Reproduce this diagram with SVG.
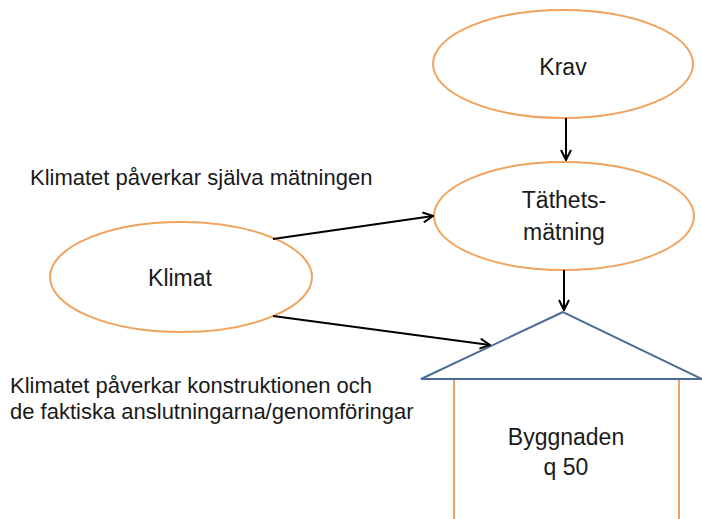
<svg xmlns="http://www.w3.org/2000/svg" width="702" height="519" viewBox="0 0 702 519">
<style>
.node{fill:#fff;stroke:#F0A35E;stroke-width:2}
.lbl{font-family:"Liberation Sans",Arial,sans-serif;font-size:23px;fill:#1a1a1a;text-anchor:middle}
.note{font-family:"Liberation Sans",Arial,sans-serif;font-size:22px;fill:#1a1a1a}
.conn{stroke:#000;stroke-width:2;fill:none;marker-end:url(#ah)}
</style>
<defs>
<marker id="ah" viewBox="0 0 12 12" refX="11" refY="6" markerWidth="12" markerHeight="12" markerUnits="userSpaceOnUse" orient="auto">
<path d="M1,1 L11,6 L1,11" fill="none" stroke="#000" stroke-width="2"/>
</marker>
</defs>
<rect width="702" height="519" fill="#fff"/>
<g id="krav">
<ellipse class="node" cx="563" cy="64" rx="130" ry="54"/>
<text class="lbl" x="563" y="75">Krav</text>
</g>
<g id="tathetsmatning">
<ellipse class="node" cx="564" cy="216" rx="130" ry="54"/>
<text class="lbl" x="564" y="208">Täthets-</text>
<text class="lbl" x="564" y="240">mätning</text>
</g>
<g id="klimat">
<ellipse class="node" cx="181" cy="277" rx="131" ry="55"/>
<text class="lbl" x="180" y="286">Klimat</text>
</g>
<g id="byggnaden">
<line x1="454" y1="379" x2="454" y2="519" stroke="#F0A35E" stroke-width="2"/>
<line x1="679" y1="379" x2="679" y2="519" stroke="#F0A35E" stroke-width="2"/>
<polygon points="563,312 421,379 702,379" fill="#fff" stroke="#4D6B96" stroke-width="2"/>
<text class="lbl" x="566" y="445">Byggnaden</text>
<text class="lbl" x="566" y="475">q 50</text>
</g>
<g id="notes">
<text class="note" x="30" y="185">Klimatet påverkar själva mätningen</text>
<text class="note" x="10" y="393">Klimatet påverkar konstruktionen och</text>
<text class="note" x="10" y="419">de faktiska anslutningarna/genomföringar</text>
</g>
<g id="connectors">
<line class="conn" x1="566" y1="118" x2="566" y2="160"/>
<line class="conn" x1="564" y1="270" x2="564" y2="310"/>
<line class="conn" x1="273" y1="239" x2="433" y2="216"/>
<line class="conn" x1="273" y1="316" x2="490" y2="345"/>
</g>
</svg>
